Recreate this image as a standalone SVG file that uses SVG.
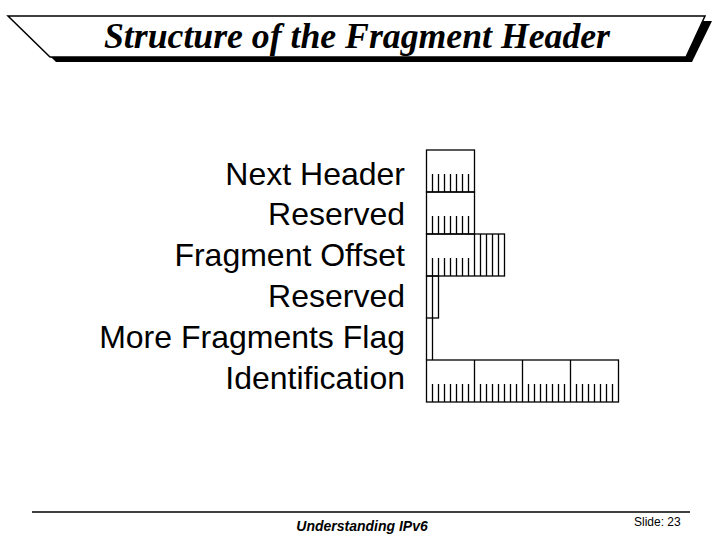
<svg xmlns="http://www.w3.org/2000/svg" width="720" height="540" viewBox="0 0 720 540">
<style>
.l{font-family:"Liberation Sans",Arial,sans-serif;font-size:32px;text-anchor:end;fill:#000}
.b{fill:none;stroke:#000;stroke-width:1.3}
</style>
<rect width="720" height="540" fill="#fff"/>
<g id="banner">
<polygon points="14,21 712,21 692,62 56,62" fill="#000"/>
<polygon points="8,16 705,16 686,57 50,57" fill="#fff" stroke="#000" stroke-width="1.5"/>
<text x="357" y="48" font-family="Liberation Serif,serif" font-size="35" font-style="italic" font-weight="bold" text-anchor="middle" textLength="506" lengthAdjust="spacingAndGlyphs">Structure of the Fragment Header</text>
</g>
<g id="labels">
<text class="l" x="405" y="185">Next Header</text>
<text class="l" x="405" y="225">Reserved</text>
<text class="l" x="405" y="266">Fragment Offset</text>
<text class="l" x="405" y="307">Reserved</text>
<text class="l" x="405" y="348">More Fragments Flag</text>
<text class="l" x="405" y="389">Identification</text>
</g>
<g id="fields" class="b">
<rect x="426.5" y="150" width="48" height="42"/>
<path d="M432.5 174V192M438.5 174V192M444.5 174V192M450.5 174V192M456.5 174V192M462.5 174V192M468.5 174V192"/>
<rect x="426.5" y="192" width="48" height="42"/>
<path d="M432.5 216V234M438.5 216V234M444.5 216V234M450.5 216V234M456.5 216V234M462.5 216V234M468.5 216V234"/>
<rect x="426.5" y="234" width="78" height="42"/>
<path d="M432.5 258V276M438.5 258V276M444.5 258V276M450.5 258V276M456.5 258V276M462.5 258V276M468.5 258V276"/>
<path d="M474.5 234V276M480.5 234V276M486.5 234V276M492.5 234V276M498.5 234V276"/>
<rect x="426.5" y="276" width="12" height="42"/>
<path d="M432.5 276V360M426.5 318V360"/>
<rect x="426.5" y="360" width="192" height="42"/>
<path d="M474.5 360V402M522.5 360V402M570.5 360V402"/>
<path d="M432.5 384V402M438.5 384V402M444.5 384V402M450.5 384V402M456.5 384V402M462.5 384V402M468.5 384V402
M480.5 384V402M486.5 384V402M492.5 384V402M498.5 384V402M504.5 384V402M510.5 384V402M516.5 384V402
M528.5 384V402M534.5 384V402M540.5 384V402M546.5 384V402M552.5 384V402M558.5 384V402M564.5 384V402
M576.5 384V402M582.5 384V402M588.5 384V402M594.5 384V402M600.5 384V402M606.5 384V402M612.5 384V402"/>
</g>
<g id="footer">
<line x1="32" y1="512" x2="690" y2="512" stroke="#000" stroke-width="1.5"/>
<text x="362" y="531" font-family="Liberation Sans,Arial,sans-serif" font-size="14" font-style="italic" font-weight="bold" text-anchor="middle">Understanding IPv6</text>
<text x="634" y="526" font-family="Liberation Sans,Arial,sans-serif" font-size="12">Slide: 23</text>
</g>
</svg>
